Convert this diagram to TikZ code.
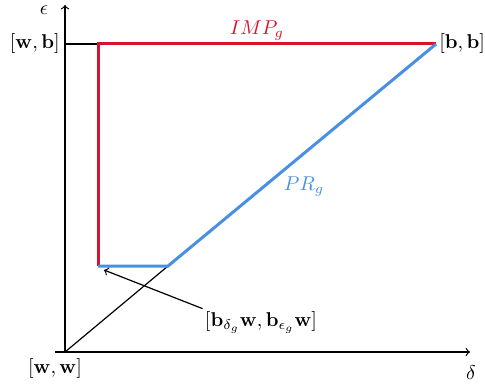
\documentclass[tikz,border=0pt]{standalone}
\usepackage{amsmath}
\begin{document}
\begin{tikzpicture}[x=0.5pt,y=-0.5pt,
  axis/.style={line width=0.6pt,->},
  thin/.style={line width=0.6pt},
  redl/.style={draw=impred,line width=1.5pt},
  bluel/.style={draw=prblue,line width=1.5pt},
  lbl/.style={inner sep=1pt}]
\definecolor{impred}{RGB}{214,18,47}
\definecolor{prblue}{RGB}{74,144,226}
\useasboundingbox (0,0) rectangle (485,385);
\coordinate (O) at (65,352);
\coordinate (xs) at (55,352);
\coordinate (xe) at (470,352);
\coordinate (ye) at (65,5);
\coordinate (Y) at (65,44);
\coordinate (A) at (98,44);
\coordinate (B) at (436,44);
\coordinate (C) at (98,266);
\coordinate (D) at (168,266);
\coordinate (T) at (104,270);
\draw[axis] (xs) -- (xe);
\draw[axis] (O) -- (ye);
\draw[thin] (Y) -- (A);
\draw[thin] (O) -- (D);
\draw[redl] (B) -- (A) -- (C);
\draw[bluel] (C) -- (D) -- (B);
\node[lbl,anchor=east] (wb) at (62,44) {$[\mathbf{w},\mathbf{b}]$};
\node[lbl,anchor=west] (bb) at (437,44) {$[\mathbf{b},\mathbf{b}]$};
\node[lbl] (ww) at (55,368) {$[\mathbf{w},\mathbf{w}]$};
\node[lbl] (eps) at (44,10) {$\epsilon$};
\node[lbl] (del) at (471,373) {$\delta$};
\node[lbl,text=impred] (imp) at (257,31) {$IMP_g$};
\node[lbl,text=prblue] (pr) at (304,187) {$PR_g$};
\node[lbl] (L) at (261,322) {$[\mathbf{b}_{\delta_g}\mathbf{w},\mathbf{b}_{\epsilon_g}\mathbf{w}]$};
\draw[thin,->] (L.north west) -- (T);
\end{tikzpicture}
\end{document}
